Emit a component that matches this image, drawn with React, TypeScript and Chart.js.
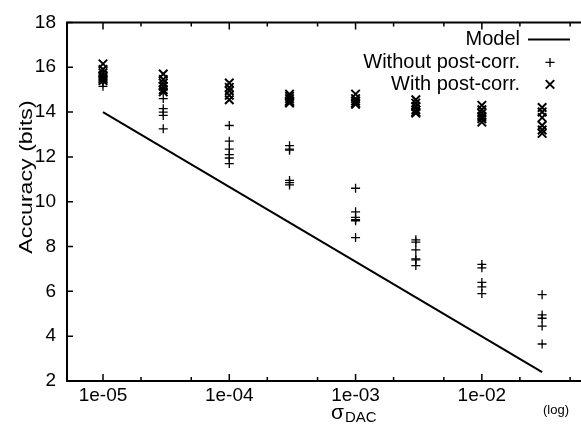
import React, { useEffect, useRef } from 'react';
import { Chart, registerables } from 'chart.js';

Chart.register(...registerables);

// ---------- data ----------
const X_VALUES = [1e-5, 3e-5, 1e-4, 3e-4, 1e-3, 3e-3, 1e-2, 3e-2];

const WITHOUT_POST_CORR: number[][] = [
  [15.8, 15.6, 15.5, 15.4, 15.3, 15.15],
  [15.0, 14.6, 14.15, 14.0, 13.85, 13.25],
  [13.4, 12.7, 12.35, 12.1, 11.95, 11.7],
  [12.5, 12.35, 12.3, 10.95, 10.85, 10.75],
  [10.6, 9.55, 9.3, 9.2, 9.15, 8.4],
  [8.3, 8.2, 7.85, 7.45, 7.4, 7.15],
  [7.2, 7.05, 6.4, 6.2, 5.9],
  [5.85, 4.95, 4.8, 4.45, 3.65],
];

const WITH_POST_CORR: number[][] = [
  [16.15, 15.9, 15.75, 15.6, 15.5, 15.4],
  [15.7, 15.45, 15.3, 15.15, 15.0, 14.9],
  [15.3, 15.1, 14.95, 14.75, 14.55],
  [14.8, 14.7, 14.6, 14.5, 14.45, 14.4],
  [14.8, 14.6, 14.5, 14.4, 14.35],
  [14.55, 14.4, 14.25, 14.1, 14.0, 13.95],
  [14.3, 14.1, 13.95, 13.8, 13.7, 13.55],
  [14.2, 14.0, 13.75, 13.4, 13.2, 13.05],
];

const MODEL_X = [1e-5, 3e-2];
const MODEL_Y = [14.0, 2.4];

const X_TICK_VALUES = [1e-5, 1e-4, 1e-3, 1e-2];
const X_TICK_LABELS = ['1e-05', '1e-04', '1e-03', '1e-02'];
const X_MINOR_FACTORS = [2, 5];
const Y_TICK_VALUES = [2, 4, 6, 8, 10, 12, 14, 16, 18];

const SERIES_LABELS = ['Model', 'Without post-corr.', 'With post-corr.'];
const Y_TITLE = 'Accuracy (bits)';
const X_TITLE_MAIN = 'σ';
const X_TITLE_SUB = 'DAC';
const X_SCALE_NOTE = '(log)';

const FONT = '"Liberation Sans", Arial, Helvetica, sans-serif';
const INK = '#000';

const toPoints = (groups: number[][]) =>
  X_VALUES.flatMap((x, i) => groups[i].map((y) => ({ x, y })));

function drawMarker(ctx: CanvasRenderingContext2D, kind: string, x: number, y: number, r: number, lw: number) {
  ctx.save();
  ctx.strokeStyle = INK;
  ctx.lineWidth = lw;
  ctx.beginPath();
  if (kind === 'cross') {
    ctx.moveTo(x - r, y);
    ctx.lineTo(x + r, y);
    ctx.moveTo(x, y - r);
    ctx.lineTo(x, y + r);
  } else {
    const d = r * Math.SQRT1_2;
    ctx.moveTo(x - d, y - d);
    ctx.lineTo(x + d, y + d);
    ctx.moveTo(x - d, y + d);
    ctx.lineTo(x + d, y - d);
  }
  ctx.stroke();
  ctx.restore();
}

const decorPlugin = {
  id: 'decor',
  afterDraw(chart: any) {
    const { ctx, chartArea: a, scales } = chart;
    const xs = scales.x;
    const ys = scales.y;
    ctx.save();
    ctx.strokeStyle = INK;
    ctx.lineWidth = 2;
    // frame: top, left, bottom (right edge runs off the picture)
    ctx.beginPath();
    ctx.moveTo(a.right, a.top);
    ctx.lineTo(a.left, a.top);
    ctx.lineTo(a.left, a.bottom);
    ctx.lineTo(a.right, a.bottom);
    ctx.stroke();

    // inward ticks
    ctx.lineWidth = 1.5;
    ctx.beginPath();
    Y_TICK_VALUES.forEach((v) => {
      const py = ys.getPixelForValue(v);
      ctx.moveTo(a.left, py);
      ctx.lineTo(a.left + 6, py);
    });
    X_TICK_VALUES.forEach((v) => {
      const px = xs.getPixelForValue(v);
      ctx.moveTo(px, a.bottom);
      ctx.lineTo(px, a.bottom - 7);
      ctx.moveTo(px, a.top);
      ctx.lineTo(px, a.top + 7);
      X_MINOR_FACTORS.forEach((f) => {
        const pm = xs.getPixelForValue(v * f);
        if (pm > a.left && pm < a.right) {
          ctx.moveTo(pm, a.bottom);
          ctx.lineTo(pm, a.bottom - 4);
          ctx.moveTo(pm, a.top);
          ctx.lineTo(pm, a.top + 4);
        }
      });
    });
    ctx.stroke();

    // legend (gnuplot style: right aligned text, sample to the right)
    const textRight = a.right - 61;
    const sampleX = a.right - 31;
    const rowY = [a.top + 17, a.top + 40, a.top + 62];
    ctx.fillStyle = INK;
    ctx.font = `20px ${FONT}`;
    ctx.textAlign = 'right';
    ctx.textBaseline = 'middle';
    SERIES_LABELS.forEach((label, i) => {
      ctx.fillText(label, textRight, rowY[i]);
    });
    ctx.beginPath();
    ctx.lineWidth = 2;
    ctx.moveTo(textRight + 8, rowY[0]);
    ctx.lineTo(textRight + 50, rowY[0]);
    ctx.stroke();
    drawMarker(ctx, 'cross', sampleX, rowY[1], 4.5, 1.3);
    drawMarker(ctx, 'crossRot', sampleX, rowY[2], 6, 2);

    // y title (slightly stretched along its length, as in the reference)
    ctx.save();
    ctx.translate(27, 177);
    ctx.rotate(-Math.PI / 2);
    ctx.scale(1.22, 1);
    ctx.textAlign = 'center';
    ctx.textBaseline = 'middle';
    ctx.font = `19px ${FONT}`;
    ctx.fillText(Y_TITLE, 0, 0);
    ctx.restore();

    // x title with subscript
    ctx.textAlign = 'left';
    ctx.textBaseline = 'alphabetic';
    ctx.font = `21px ${FONT}`;
    ctx.fillText(X_TITLE_MAIN, 331, 419);
    const w = ctx.measureText(X_TITLE_MAIN).width;
    ctx.font = `15px ${FONT}`;
    ctx.fillText(X_TITLE_SUB, 331 + w + 1, 422);

    ctx.font = `13px ${FONT}`;
    ctx.fillText(X_SCALE_NOTE, 543, 414);
    ctx.restore();
  },
};

export default function App() {
  const canvasRef = useRef<HTMLCanvasElement | null>(null);

  useEffect(() => {
    const canvas = canvasRef.current;
    if (!canvas) return;
    Chart.defaults.font.family = FONT;
    const chart = new Chart(canvas, {
      type: 'scatter',
      data: {
        datasets: [
          {
            type: 'line',
            label: SERIES_LABELS[0],
            data: MODEL_X.map((x, i) => ({ x, y: MODEL_Y[i] })),
            borderColor: INK,
            borderWidth: 2,
            pointRadius: 0,
            fill: false,
            order: 2,
          } as any,
          {
            label: SERIES_LABELS[1],
            data: toPoints(WITHOUT_POST_CORR),
            pointStyle: 'cross',
            pointRadius: 4.5,
            borderWidth: 1.3,
            borderColor: INK,
            backgroundColor: INK,
            order: 1,
          },
          {
            label: SERIES_LABELS[2],
            data: toPoints(WITH_POST_CORR),
            pointStyle: 'crossRot',
            pointRadius: 6,
            borderWidth: 2,
            borderColor: INK,
            backgroundColor: INK,
            order: 0,
          },
        ],
      },
      options: {
        responsive: false,
        animation: false,
        devicePixelRatio: 1,
        layout: { autoPadding: false, padding: { top: 18, right: 0, left: 0, bottom: 0 } },
        plugins: { legend: { display: false }, tooltip: { enabled: false } },
        scales: {
          x: {
            type: 'logarithmic',
            min: Math.pow(10, -5.285),
            max: Math.pow(10, -1.215),
            afterBuildTicks: (s: any) => {
              s.ticks = X_TICK_VALUES.map((v) => ({ value: v }));
            },
            afterFit: (s: any) => {
              s.height = 47;
            },
            ticks: {
              autoSkip: false,
              maxRotation: 0,
              padding: 3,
              color: INK,
              font: { size: 19, family: FONT },
              callback: (_v: any, i: number) => X_TICK_LABELS[i],
            },
            grid: { display: false, drawTicks: false },
            border: { display: false },
          },
          y: {
            type: 'linear',
            min: 2,
            max: 18,
            afterBuildTicks: (s: any) => {
              s.ticks = Y_TICK_VALUES.map((v) => ({ value: v }));
            },
            afterFit: (s: any) => {
              s.width = 67;
            },
            ticks: {
              padding: 11,
              color: INK,
              font: { size: 19, family: FONT },
            },
            grid: { display: false, drawTicks: false },
            border: { display: false },
          },
        },
      },
      plugins: [decorPlugin],
    });
    return () => chart.destroy();
  }, []);

  return (
    <div style={{ position: 'absolute', left: 0, top: 0, width: 581, height: 428, background: '#fff' }}>
      <canvas ref={canvasRef} width={581} height={428} />
    </div>
  );
}
